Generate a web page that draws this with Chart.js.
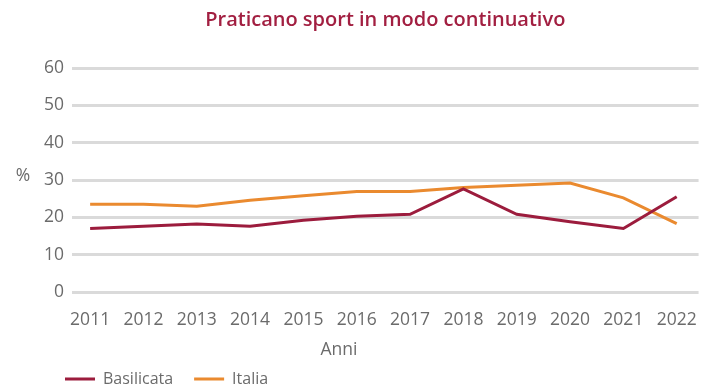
<!DOCTYPE html>
<html lang="it">
<head>
<meta charset="utf-8">
<title>Praticano sport in modo continuativo</title>
<script src="https://cdn.jsdelivr.net/npm/chart.js@4.4.1/dist/chart.umd.min.js"></script>
<style>
  html, body { margin: 0; padding: 0; background: #fff; }
  #box { width: 707px; height: 389px; position: relative; }
</style>
</head>
<body>
<div id="box"><canvas id="grafico-sport"></canvas></div>
<script>
// Anni e quote (%) di chi pratica sport in modo continuativo
const anni = [2011, 2012, 2013, 2014, 2015, 2016, 2017, 2018, 2019, 2020, 2021, 2022];
const basilicata = [17.0, 17.6, 18.2, 17.6, 19.2, 20.3, 20.8, 27.6, 20.8, 18.8, 17.0, 25.5];
const italia = [23.5, 23.5, 23.0, 24.6, 25.8, 26.9, 26.9, 28.0, 28.6, 29.2, 25.2, 18.3];

const grigio = "#6b6b6b";
const altezzaTela = 389;
const fondoArea = 292; // dove cade lo zero dell'asse y
const sottoLegenda = -8; // la legenda scende un po' oltre il bordo del layout

// coppie {x, y} per l'asse lineare degli anni
const punti = (serie) => anni.map((a, i) => ({ x: a, y: serie[i] }));

// titoli degli assi: "%" accanto all'asse y, "Anni" sotto gli anni
const titoliAssi = {
  id: "titoliAssi",
  afterDraw(chart) {
    const ctx = chart.ctx;
    const y30 = chart.scales.y.getPixelForValue(30);
    ctx.save();
    ctx.font = "17.5px 'Open Sans', sans-serif";
    ctx.fillStyle = grigio;
    ctx.textAlign = "center";
    ctx.textBaseline = "middle";
    ctx.fillText("%", 23, y30 - 4);
    ctx.fillText("Anni", 339, 350);
    ctx.restore();
  },
};

Chart.defaults.font.family = "'Open Sans', sans-serif";
Chart.defaults.color = grigio;

const config = {
  type: "line",
  data: {
    datasets: [
      {
        label: "Basilicata",
        data: punti(basilicata),
        borderColor: "#9c1c3d",
        backgroundColor: "#9c1c3d",
        borderWidth: 3,
        pointRadius: 0,
        tension: 0,
      },
      {
        label: "Italia",
        data: punti(italia),
        borderColor: "#ea8a2f",
        backgroundColor: "#ea8a2f",
        borderWidth: 3,
        pointRadius: 0,
        tension: 0,
      },
    ],
  },
  options: {
    responsive: true,
    maintainAspectRatio: false,
    animation: false,
    layout: { padding: { left: 44, right: 7, top: 0, bottom: sottoLegenda } },
    plugins: {
      title: {
        display: true,
        fullSize: false,
        text: "Praticano sport in modo continuativo",
        color: "#a21f41",
        font: { size: 20, weight: "600" },
        padding: { top: 8, bottom: 36 },
      },
      legend: {
        position: "bottom",
        align: "start",
        labels: {
          boxWidth: 30,
          boxHeight: 0, // solo il tratto della linea
          padding: 21,
          color: grigio,
          font: { size: 16 },
        },
      },
      tooltip: { enabled: false },
    },
    scales: {
      x: {
        type: "linear",
        min: 2010.66,
        max: 2022.41,
        afterFit(scale) {
          scale.height = altezzaTela - sottoLegenda - fondoArea - scale.chart.legend.height;
        },
        grid: { display: false },
        border: { display: false },
        ticks: {
          stepSize: 1,
          maxTicksLimit: 20,
          includeBounds: false,
          autoSkip: false,
          maxRotation: 0,
          padding: 10,
          font: { size: 17.5 },
          callback: (v) => String(v),
        },
      },
      y: {
        min: 0,
        max: 60,
        afterFit(scale) {
          scale.width = 28;
        },
        grid: { color: "#dadada", lineWidth: 3, drawTicks: false },
        border: { display: false },
        ticks: { stepSize: 10, padding: 8, font: { size: 17.5 } },
      },
    },
  },
  plugins: [titoliAssi],
};

const ctx = document.getElementById("grafico-sport").getContext("2d");
new Chart(ctx, config);
</script>
</body>
</html>
